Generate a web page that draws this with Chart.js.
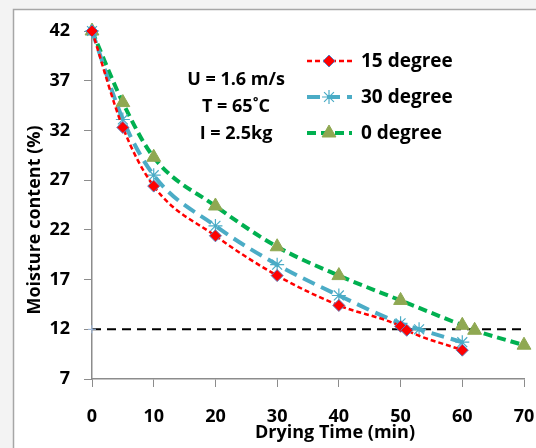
<!DOCTYPE html>
<html>
<head>
<meta charset="utf-8">
<script src="https://cdn.jsdelivr.net/npm/chart.js@4"></script>
<style>
  html, body { margin: 0; padding: 0; background: #ffffff; }
  #wrap { width: 536px; height: 448px; }
</style>
</head>
<body>
<div id="wrap"><canvas id="chart" width="536" height="448"></canvas></div>
<script>
// drying time (min) and moisture content (%) per tilt angle
const time15 = [0, 5, 10, 20, 30, 40, 50, 51, 60];
const mc15 = [42, 32.3, 26.4, 21.4, 17.4, 14.4, 12.3, 11.9, 9.9];

const time30 = [0, 5, 10, 20, 30, 40, 50, 53, 60];
const mc30 = [42, 33.1, 27.5, 22.4, 18.5, 15.4, 12.6, 12.0, 10.7];

const time0 = [0, 5, 10, 20, 30, 40, 50, 60, 62, 70];
const mc0 = [42, 34.8, 29.3, 24.4, 20.3, 17.4, 14.9, 12.4, 11.9, 10.4];

// target moisture level
const refTime = [0, 70];
const refMc = [12, 12];

const xTicks = [0, 10, 20, 30, 40, 50, 60, 70];
const yTicks = [7, 12, 17, 22, 27, 32, 37, 42];

const seriesLabels = ['15 degree', '30 degree', '0 degree'];
const infoLines = ['U = 1.6 m/s', 'T = 65\u02DAC', 'I = 2.5kg'];

const FONT = '"Open Sans", "Liberation Sans", sans-serif';

function toPoints(xs, ys) {
    return xs.map((x, i) => ({ x: x, y: ys[i] }));
}

const framePlugin = {
    id: 'frame',
    beforeDraw(chart) {
        const c = chart.ctx;
        c.save();
        c.fillStyle = '#f3f3f3';
        c.fillRect(0, 0, chart.width, chart.height);
        c.fillStyle = '#ffffff';
        c.fillRect(13, 9, chart.width - 13, chart.height - 9);
        c.strokeStyle = '#a6a6a6';
        c.lineWidth = 1.5;
        c.beginPath();
        c.moveTo(13.5, chart.height);
        c.lineTo(13.5, 9.5);
        c.lineTo(chart.width, 9.5);
        c.stroke();
        c.restore();
    },
    afterDraw(chart) {
        const c = chart.ctx;
        c.save();
        c.fillStyle = '#000000';
        c.font = 'bold 18px ' + FONT;
        c.textBaseline = 'middle';

        // axis titles
        c.textAlign = 'center';
        c.fillText('Drying Time (min)', 335, 433);
        c.save();
        c.translate(35, 220);
        c.rotate(-Math.PI / 2);
        c.fillText('Moisture content (%)', 0, 0);
        c.restore();

        // operating conditions
        c.font = 'bold 18px ' + FONT;
        infoLines.forEach((t, i) => c.fillText(t, 236, 80 + i * 27));

        // legend: line sample + marker + label
        c.font = 'bold 19px ' + FONT;
        c.textAlign = 'left';
        [0, 1, 2].forEach(i => {
            const ds = chart.data.datasets[i];
            const y = 61 + i * 36;
            c.save();
            c.strokeStyle = ds.borderColor;
            c.lineWidth = ds.borderWidth;
            c.setLineDash(ds.borderDash);
            c.beginPath();
            c.moveTo(307, y);
            c.lineTo(352, y);
            c.stroke();
            c.restore();
            c.save();
            c.fillStyle = ds.pointBackgroundColor;
            c.strokeStyle = ds.pointBorderColor;
            c.lineWidth = ds.pointBorderWidth;
            Chart.helpers.drawPoint(c, {
                pointStyle: ds.pointStyle,
                radius: ds.pointRadius,
                borderWidth: ds.pointBorderWidth,
                rotation: 0
            }, 329, y);
            c.restore();
            c.fillStyle = '#000000';
            c.fillText(seriesLabels[i], 361, y + 1);
        });
        c.restore();
    }
};

new Chart(document.getElementById('chart'), {
    type: 'line',
    data: {
        datasets: [
            {
                label: seriesLabels[0],
                data: toPoints(time15, mc15),
                borderColor: '#ff0000',
                borderWidth: 2.5,
                borderDash: [5, 3],
                pointStyle: 'rectRot',
                pointRadius: 6,
                pointBackgroundColor: '#ff0000',
                pointBorderColor: '#5b7fbf',
                pointBorderWidth: 1,
                cubicInterpolationMode: 'monotone',
                clip: false
            },
            {
                label: seriesLabels[1],
                data: toPoints(time30, mc30),
                borderColor: '#4bacc6',
                borderWidth: 4,
                borderDash: [13, 7],
                pointStyle: 'star',
                pointRadius: 7,
                pointBackgroundColor: '#4bacc6',
                pointBorderColor: '#4bacc6',
                pointBorderWidth: 1.2,
                cubicInterpolationMode: 'monotone',
                clip: false
            },
            {
                label: seriesLabels[2],
                data: toPoints(time0, mc0),
                borderColor: '#00b050',
                borderWidth: 4,
                borderDash: [9, 5],
                pointStyle: 'triangle',
                pointRadius: 8,
                pointBackgroundColor: '#8fa852',
                pointBorderColor: '#8fa852',
                pointBorderWidth: 1,
                cubicInterpolationMode: 'monotone',
                clip: false
            },
            {
                label: '12%',
                data: toPoints(refTime, refMc),
                borderColor: '#000000',
                borderWidth: 2,
                borderDash: [9, 6],
                pointStyle: 'cross',
                pointRadius: [4, 0],
                pointBorderColor: '#a9c4e8',
                pointBorderWidth: 1,
                tension: 0,
                clip: false
            }
        ]
    },
    options: {
        responsive: false,
        animation: false,
        events: [],
        layout: {
            padding: { top: 31, left: 0, right: 0, bottom: 0 }
        },
        plugins: {
            legend: { display: false },
            tooltip: { enabled: false }
        },
        scales: {
            x: {
                type: 'linear',
                min: 0,
                max: 70,
                afterFit: function(scale) {
                    scale.height = 69;
                    scale.paddingRight = 12;
                },
                afterBuildTicks: function(scale) {
                    scale.ticks = xTicks.map(v => ({ value: v }));
                },
                ticks: {
                    padding: 19,
                    color: '#000000',
                    font: { family: FONT, size: 18, weight: 'bold' }
                },
                grid: {
                    drawOnChartArea: false,
                    drawTicks: true,
                    tickLength: 8,
                    color: '#8c8c8c'
                },
                border: { display: true, color: '#8c8c8c', width: 1.5 }
            },
            y: {
                type: 'linear',
                min: 7,
                max: 42,
                afterFit: function(scale) { scale.width = 92; },
                afterBuildTicks: function(scale) {
                    scale.ticks = yTicks.map(v => ({ value: v }));
                },
                ticks: {
                    padding: 14,
                    color: '#000000',
                    font: { family: FONT, size: 18, weight: 'bold' }
                },
                grid: {
                    drawOnChartArea: false,
                    drawTicks: true,
                    tickLength: 8,
                    color: '#8c8c8c'
                },
                border: { display: true, color: '#8c8c8c', width: 1.5 }
            }
        }
    },
    plugins: [framePlugin]
});
</script>
</body>
</html>
